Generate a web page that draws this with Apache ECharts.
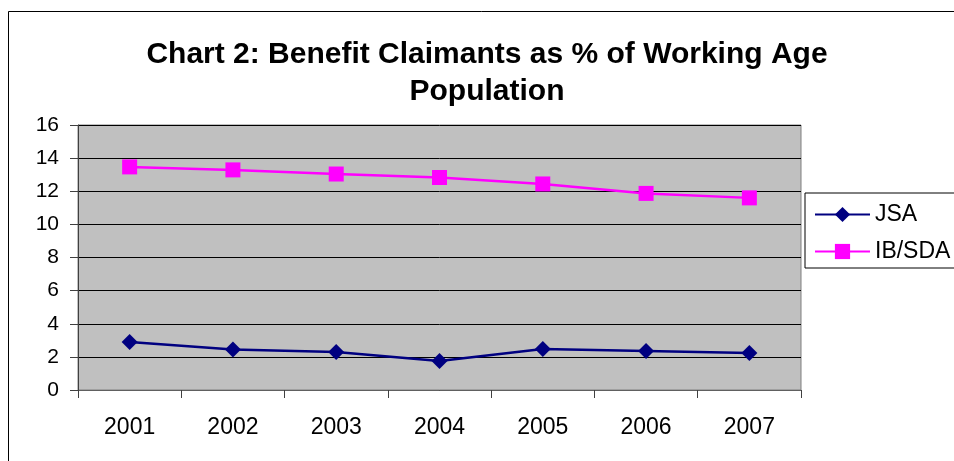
<!DOCTYPE html>
<html>
<head>
<meta charset="utf-8">
<script src="https://cdn.jsdelivr.net/npm/echarts@6/dist/echarts.min.js"></script>
<style>
  html, body { margin: 0; padding: 0; background: #fff; }
  #chart { width: 954px; height: 461px; }
</style>
</head>
<body>
<div id="chart"></div>
<script>
// Claimants as a share of the working age population, by year
const years = ['2001', '2002', '2003', '2004', '2005', '2006', '2007'];
const jsa = [2.9, 2.45, 2.29, 1.75, 2.48, 2.36, 2.23];
const ibSda = [13.47, 13.29, 13.04, 12.83, 12.44, 11.87, 11.6];
const yTicks = { min: 0, max: 16, step: 2 };

const FONT = 'Liberation Sans, Arial, sans-serif';

const chart = echarts.init(document.getElementById('chart'), null, { renderer: 'canvas' });

chart.setOption({
  animation: false,
  backgroundColor: '#ffffff',
  title: {
    text: 'Chart 2: Benefit Claimants as % of Working Age\nPopulation',
    left: 482,
    top: 31,
    textAlign: 'center',
    textStyle: {
      fontFamily: FONT,
      fontWeight: 'bold',
      fontSize: 30,
      lineHeight: 37,
      color: '#000'
    }
  },
  legend: {
    orient: 'vertical',
    left: 805,
    top: 193,
    padding: [10, 20, 5, 9],
    itemGap: 14,
    itemWidth: 55,
    itemHeight: 19,
    borderColor: '#000',
    borderWidth: 1,
    backgroundColor: '#fff',
    textStyle: { fontFamily: FONT, fontSize: 23, color: '#000' },
    data: ['JSA', 'IB/SDA']
  },
  graphic: [{
    type: 'rect',
    silent: true,
    z: -1,
    shape: { x: 8.5, y: 11.5, width: 1000, height: 500 },
    style: { fill: 'none', stroke: '#000', lineWidth: 1 }
  }],
  grid: {
    left: 78,
    right: 153,
    top: 125,
    bottom: 71,
    show: true,
    backgroundColor: '#C0C0C0',
    borderColor: '#808080',
    borderWidth: 1
  },
  xAxis: {
    type: 'category',
    data: years,
    boundaryGap: true,
    axisLine: { lineStyle: { color: '#606060', width: 1 } },
    axisTick: { show: true, length: 8, lineStyle: { color: '#404040' } },
    axisLabel: { margin: 26, fontFamily: FONT, fontSize: 23, color: '#000' },
    splitLine: { show: false }
  },
  yAxis: {
    type: 'value',
    min: yTicks.min,
    max: yTicks.max,
    interval: yTicks.step,
    axisLine: { show: true, lineStyle: { color: '#404040', width: 1 } },
    axisTick: { show: true, length: 8, lineStyle: { color: '#404040' } },
    axisLabel: { margin: 19, fontFamily: FONT, fontSize: 21, color: '#000' },
    splitLine: { show: true, lineStyle: { color: '#000', width: 1 } }
  },
  series: [
    {
      name: 'JSA',
      type: 'line',
      data: jsa,
      symbol: 'diamond',
      symbolSize: 16,
      color: '#000080',
      lineStyle: { color: '#000080', width: 2.5 },
      itemStyle: { color: '#000080' }
    },
    {
      name: 'IB/SDA',
      type: 'line',
      data: ibSda,
      symbol: 'rect',
      symbolSize: 15,
      color: '#FF00FF',
      lineStyle: { color: '#FF00FF', width: 2.5 },
      itemStyle: { color: '#FF00FF' }
    }
  ]
});
</script>
</body>
</html>
